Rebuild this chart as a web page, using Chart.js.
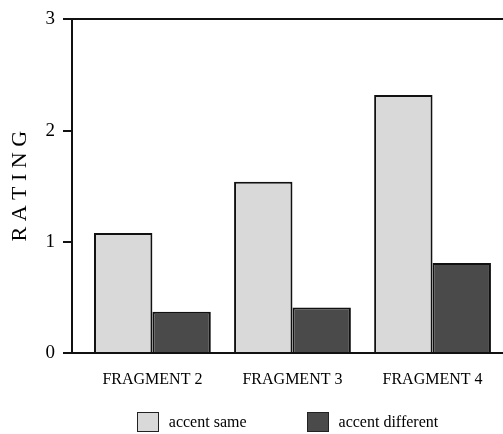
<!DOCTYPE html>
<html>
<head>
<meta charset="utf-8">
<script src="https://cdn.jsdelivr.net/npm/chart.js@4/dist/chart.umd.min.js"></script>
<style>
  html, body { margin: 0; padding: 0; background: #fff; }
  #wrap { position: relative; width: 503px; height: 434px; overflow: hidden; }
  canvas { display: block; }
  #legend { position: absolute; top: 412px; display: flex; justify-content: center; align-items: center;
            font-family: "Liberation Serif", serif; font-size: 16px; color: #000; }
  #legend .item { display: flex; align-items: center; margin: 0 30px; white-space: nowrap; }
  #legend .box { width: 20px; height: 18px; border: 1px solid #222; margin-right: 10px; }
</style>
</head>
<body>
<div id="wrap">
  <canvas id="c" width="503" height="434"></canvas>
  <div id="legend"></div>
</div>
<script>
// ---- data ----
const categories = ['FRAGMENT 2', 'FRAGMENT 3', 'FRAGMENT 4'];
const seriesNames = ['accent same', 'accent different'];
const accentSame = [1.08, 1.54, 2.32];
const accentDifferent = [0.37, 0.41, 0.81];
const yTickValues = [0, 1, 2, 3];

const serif = "'Liberation Serif', 'Times New Roman', serif";
const toPoints = (vals) => vals.map((v, i) => ({ x: i, y: v }));

const htmlLegend = {
  id: 'htmlLegend',
  afterUpdate(chart) {
    const el = document.getElementById('legend');
    const items = chart.options.plugins.legend.labels.generateLabels(chart);
    el.innerHTML = '';
    el.style.left = chart.chartArea.left + 'px';
    el.style.width = (chart.chartArea.right - chart.chartArea.left) + 'px';
    items.forEach(it => {
      const d = document.createElement('div');
      d.className = 'item';
      const b = document.createElement('span');
      b.className = 'box';
      b.style.background = it.fillStyle;
      const t = document.createElement('span');
      t.textContent = it.text;
      d.appendChild(b); d.appendChild(t);
      el.appendChild(d);
    });
  }
};

new Chart(document.getElementById('c'), {
  type: 'bar',
  data: {
    datasets: [
      { label: seriesNames[0], data: toPoints(accentSame), backgroundColor: '#d9d9d9',
        borderColor: '#111', borderWidth: 2, borderSkipped: 'bottom' },
      { label: seriesNames[1], data: toPoints(accentDifferent), backgroundColor: '#4a4a4a',
        borderColor: '#111', borderWidth: 2, borderSkipped: 'bottom' }
    ]
  },
  options: {
    responsive: false,
    animation: false,
    layout: { padding: { top: 16, right: 0, bottom: 0, left: 0 } },
    datasets: { bar: { categoryPercentage: 0.834, barPercentage: 1.0 } },
    plugins: {
      legend: { display: false },
      tooltip: { enabled: false }
    },
    scales: {
      x: {
        type: 'linear',
        offset: false,
        min: -0.574,
        max: 2.503,
        afterBuildTicks: (scale) => { scale.ticks = categories.map((_, i) => ({ value: i })); },
        afterFit: (scale) => { scale.height = 81; },
        grid: { display: false, drawTicks: false },
        border: { display: true, color: '#111', width: 2 },
        ticks: {
          autoSkip: false, maxRotation: 0, padding: 17, color: '#000',
          font: { family: serif, size: 16 },
          callback: (v) => categories[v] !== undefined ? categories[v] : ''
        }
      },
      y: {
        min: 0,
        max: 3,
        afterBuildTicks: (scale) => { scale.ticks = yTickValues.map(v => ({ value: v })); },
        afterFit: (scale) => { scale.width = 72; },
        grid: {
          drawOnChartArea: true,
          color: (ctx) => (ctx.tick && ctx.tick.value === 3) ? '#111' : 'rgba(0,0,0,0)',
          tickColor: '#111',
          tickLength: 9,
          lineWidth: 2
        },
        border: { display: true, color: '#111', width: 2 },
        ticks: { color: '#000', padding: 8, font: { family: serif, size: 19 } },
        title: {
          display: true, text: 'R A T I N G', color: '#000',
          font: { family: serif, size: 22 },
          padding: { top: 7, bottom: 0 }
        }
      }
    }
  },
  plugins: [htmlLegend]
});
</script>
</body>
</html>
